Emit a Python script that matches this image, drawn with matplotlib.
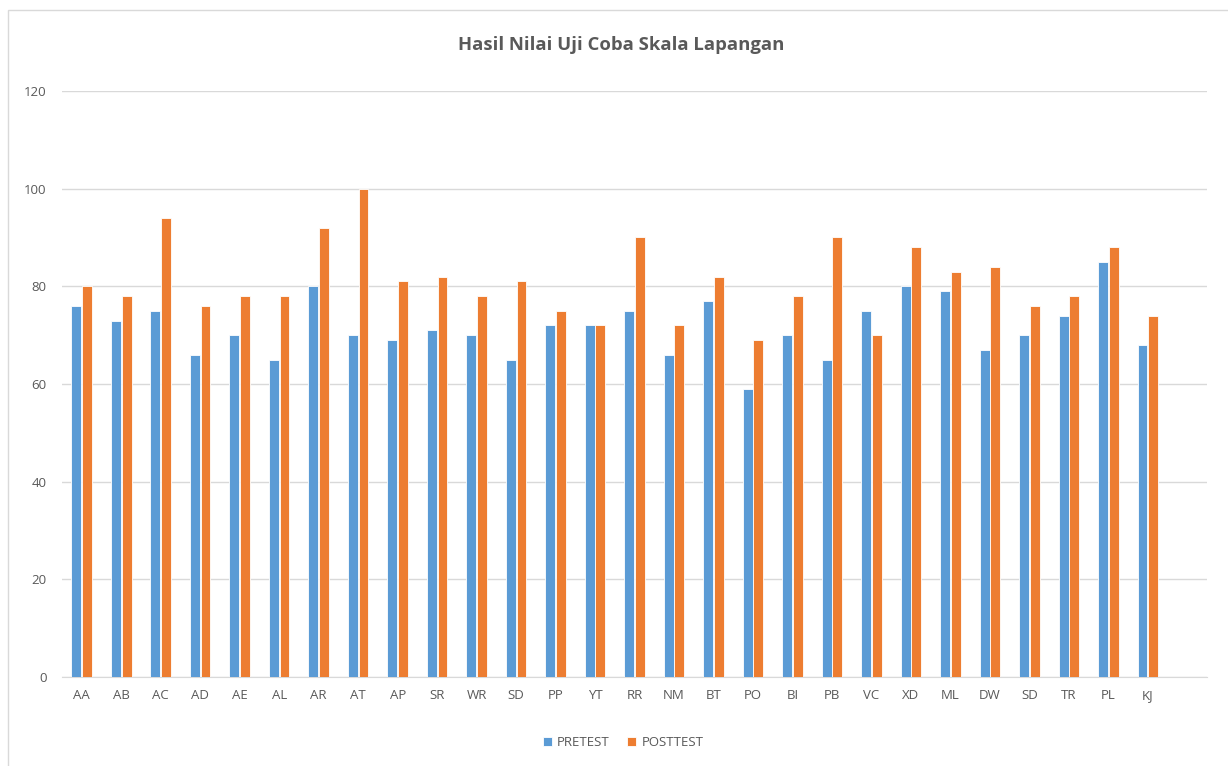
import numpy as np
import matplotlib.pyplot as plt
from matplotlib.patches import Rectangle

# Data
students = ["AA", "AB", "AC", "AD", "AE", "AL", "AR", "AT", "AP", "SR", "WR", "SD", "PP", "YT",
            "RR", "NM", "BT", "PO", "BI", "PB", "VC", "XD", "ML", "DW", "SD", "TR", "PL", "KJ"]
pretest = [76, 73, 75, 66, 70, 65, 80, 70, 69, 71, 70, 65, 72, 72,
           75, 66, 77, 59, 70, 65, 75, 80, 79, 67, 70, 74, 85, 68]
posttest = [80, 78, 94, 76, 78, 78, 92, 100, 81, 82, 78, 81, 75, 72,
            90, 72, 82, 69, 78, 90, 70, 88, 83, 84, 76, 78, 88, 74]

plt.rcParams['font.family'] = ['Open Sans', 'DejaVu Sans']
text_color = "#595959"

fig = plt.figure(figsize=(12.28, 7.66), dpi=100)
ax = fig.add_axes([0.0505, 0.1162, 0.9325, 0.765])

# light frame around chart area
fig.patches.append(Rectangle((8 / 1228, -0.01), 1.02, 1 - 10 / 766 + 0.01,
                             transform=fig.transFigure, fill=False,
                             edgecolor="#D9D9D9", linewidth=1))

x = np.arange(len(students))
w = 0.25
ax.bar(x - 0.135, pretest, w, color="#5B9BD5", edgecolor="white", linewidth=0.6,
       label="PRETEST", zorder=3)
ax.bar(x + 0.135, posttest, w, color="#ED7D31", edgecolor="white", linewidth=0.6,
       label="POSTTEST", zorder=3)

ax.set_ylim(0, 120)
ax.set_yticks(range(0, 121, 20))
ax.set_xlim(-0.5, len(students) + 0.5)
ax.set_xticks(x)
ax.set_xticklabels(students)
ax.grid(axis="y", color="#D9D9D9", linewidth=1, zorder=0)
for s in ["top", "right", "left"]:
    ax.spines[s].set_visible(False)
ax.spines["bottom"].set_color("#D9D9D9")
ax.tick_params(axis="both", length=0, colors=text_color, labelsize=9.5)
ax.tick_params(axis="y", pad=11)
ax.tick_params(axis="x", pad=9)

fig.text(621 / 1228, 1 - 45 / 766, "Hasil Nilai Uji Coba Skala Lapangan", fontsize=13.3,
         fontweight="bold", color=text_color, ha="center", va="center")

ax.legend(loc="upper center", bbox_to_anchor=(0.49, -0.08), ncol=2, frameon=False,
          fontsize=9.5, labelcolor=text_color, handlelength=0.7, handleheight=0.7,
          columnspacing=1.3, handletextpad=0.4)

fig.savefig("out.png", dpi=100)
